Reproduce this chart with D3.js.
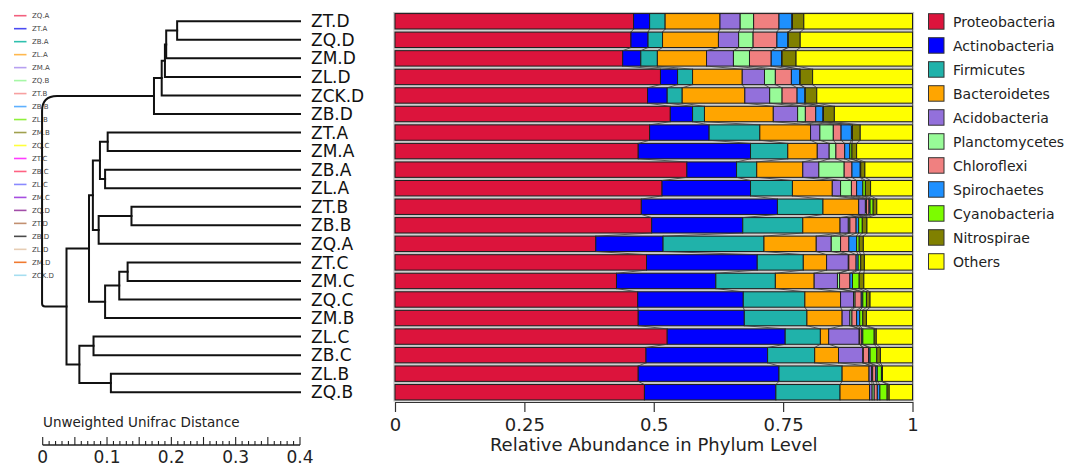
<!DOCTYPE html>
<html>
<head>
<meta charset="utf-8">
<script src="https://cdn.jsdelivr.net/npm/d3@7"></script>
<style>
  body { margin: 0; background: #fff; }
  svg { display: block; font-family: "DejaVu Sans", "Liberation Sans", sans-serif; }
</style>
</head>
<body>
<svg id="chart" width="1083" height="467"></svg>
<script>
// Samples in dendrogram (display) order, top to bottom
const samples = ["ZT.D","ZQ.D","ZM.D","ZL.D","ZCK.D","ZB.D","ZT.A","ZM.A","ZB.A","ZL.A",
                 "ZT.B","ZB.B","ZQ.A","ZT.C","ZM.C","ZQ.C","ZM.B","ZL.C","ZB.C","ZL.B","ZQ.B"];

const phyla = ["Proteobacteria","Actinobacteria","Firmicutes","Bacteroidetes","Acidobacteria",
               "Planctomycetes","Chloroflexi","Spirochaetes","Cyanobacteria","Nitrospirae","Others"];
const phylumColors = ["#DC143C","#0000FF","#20B2AA","#FFA500","#9370DB",
                      "#98FB98","#F08080","#1E90FF","#7CFC00","#808000","#FFFF00"];

// Relative abundance per phylum, one value per sample (same order as `samples`)
const proteobacteria = [0.461,0.456,0.440,0.513,0.488,0.532,0.492,0.470,0.564,0.516,0.476,0.496,0.388,0.486,0.428,0.469,0.470,0.526,0.485,0.470,0.482];
const actinobacteria = [0.031,0.033,0.035,0.033,0.038,0.043,0.115,0.217,0.096,0.171,0.263,0.176,0.130,0.214,0.192,0.204,0.205,0.228,0.235,0.272,0.254];
const firmicutes     = [0.030,0.028,0.032,0.029,0.029,0.023,0.098,0.072,0.039,0.081,0.088,0.116,0.195,0.089,0.115,0.119,0.121,0.068,0.091,0.122,0.124];
const bacteroidetes  = [0.106,0.108,0.095,0.096,0.121,0.133,0.098,0.057,0.089,0.077,0.069,0.072,0.101,0.045,0.075,0.069,0.068,0.016,0.046,0.052,0.057];
const acidobacteria  = [0.039,0.039,0.052,0.043,0.048,0.047,0.018,0.023,0.031,0.016,0.013,0.016,0.029,0.042,0.045,0.025,0.015,0.059,0.047,0.005,0.005];
const planctomycetes = [0.026,0.028,0.031,0.021,0.024,0.015,0.026,0.013,0.049,0.021,0.002,0.003,0.018,0.001,0.004,0.003,0.004,0.001,0.001,0.002,0.004];
const chloroflexi    = [0.049,0.046,0.042,0.031,0.029,0.020,0.015,0.017,0.015,0.010,0.005,0.012,0.016,0.014,0.020,0.012,0.009,0.004,0.010,0.006,0.006];
const spirochaetes   = [0.025,0.021,0.020,0.016,0.015,0.014,0.020,0.010,0.016,0.012,0.002,0.005,0.015,0.004,0.005,0.003,0.006,0.002,0.003,0.003,0.005];
const cyanobacteria  = [0.001,0.001,0.001,0.001,0.001,0.001,0.002,0.004,0.001,0.005,0.006,0.007,0.005,0.005,0.013,0.007,0.006,0.022,0.013,0.008,0.014];
const nitrospirae    = [0.022,0.023,0.027,0.024,0.022,0.021,0.015,0.009,0.008,0.010,0.007,0.009,0.008,0.007,0.009,0.007,0.007,0.004,0.007,0.002,0.004];
const others         = [0.210,0.217,0.225,0.193,0.185,0.151,0.101,0.108,0.092,0.081,0.069,0.088,0.095,0.093,0.094,0.082,0.089,0.070,0.062,0.058,0.045];

// UPGMA merges: [left, right, height]; "#n" refers to merge n
const merges = [
  ["ZT.D","ZQ.D",0.191], ["#0","ZM.D",0.208], ["#1","ZL.D",0.210], ["#2","ZCK.D",0.215], ["#3","ZB.D",0.227],
  ["ZT.A","ZM.A",0.299], ["ZB.A","ZL.A",0.303], ["#5","#6",0.311],
  ["ZT.B","ZB.B",0.262], ["#8","ZQ.A",0.313], ["#7","#9",0.322],
  ["ZT.C","ZM.C",0.268], ["#11","ZQ.C",0.281], ["#12","ZM.B",0.303], ["#10","#13",0.328],
  ["ZL.C","ZB.C",0.321], ["ZL.B","ZQ.B",0.294], ["#15","#16",0.343],
  ["#14","#17",0.363], ["#4","#18",0.401]
];

// Sample key (left) with its line colours
const keySamples = ["ZQ.A","ZT.A","ZB.A","ZL.A","ZM.A","ZQ.B","ZT.B","ZB.B","ZL.B","ZM.B","ZQ.C",
                    "ZT.C","ZB.C","ZL.C","ZM.C","ZQ.D","ZT.D","ZB.D","ZL.D","ZM.D","ZCK.D"];
const keyColors = ["#f2607e","#4b4bf2","#2fc0ae","#ffb84e","#b7a0f0","#a6f7a6","#f7a0a0","#5eb0ff","#8ff03c","#a0a04e","#ffff3c",
                   "#ff3cff","#ff6282","#8a8aff","#a64ee0","#a24ea8","#c29070","#4a4a4a","#e6cdb4","#f07a30","#a6def0"];

const distTicks = [0, 0.1, 0.2, 0.3, 0.4];
const abundTicks = [0, 0.25, 0.5, 0.75, 1];

const svg = d3.select("#chart");

// ---------- scales ----------
const x = d3.scaleLinear().domain([0, 1]).range([395, 912.5]);
const y = d3.scaleBand().domain(samples).range([12, 401.5]).paddingInner(0.17).paddingOuter(0.085);
const dist = d3.scaleLinear().domain([0, 0.4]).range([42.7, 300]);   // distance -> px (leaves at 0.4)
const color = d3.scaleOrdinal().domain(phyla).range(phylumColors);

// ---------- stacked bars ----------
const seriesArrays = [proteobacteria, actinobacteria, firmicutes, bacteroidetes, acidobacteria,
                      planctomycetes, chloroflexi, spirochaetes, cyanobacteria, nitrospirae, others];
const rows = samples.map((s, i) => {
  const r = { sample: s };
  phyla.forEach((p, k) => r[p] = seriesArrays[k][i]);
  return r;
});
const stacked = d3.stack().keys(phyla)(rows);
const bw = y.bandwidth();

const barG = svg.append("g");
// grey halo behind each bar
barG.selectAll("rect.halo").data(rows).join("rect")
  .attr("x", x(0) - 1.6)
  .attr("y", d => y(d.sample) - 1.6)
  .attr("width", d => x(d3.sum(phyla, p => d[p])) - x(0) + 3.2)
  .attr("height", bw + 3.2)
  .attr("fill", "#c4c4c4");

// connectors between segment boundaries of neighbouring bars
const connG = svg.append("g").attr("stroke", "#3a3a3a").attr("stroke-width", 0.8);
stacked.forEach(layer => {
  for (let i = 0; i < samples.length - 1; i++) {
    connG.append("line")
      .attr("x1", x(layer[i][1])).attr("y1", y(samples[i]) + bw)
      .attr("x2", x(layer[i + 1][1])).attr("y2", y(samples[i + 1]));
  }
});

barG.append("g").selectAll("g").data(stacked).join("g")
  .attr("fill", d => color(d.key))
  .selectAll("rect").data(d => d).join("rect")
  .attr("x", d => x(d[0]))
  .attr("y", d => y(d.data.sample))
  .attr("width", d => Math.max(0, x(d[1]) - x(d[0])))
  .attr("height", bw)
  .attr("stroke", "#1e1e1e")
  .attr("stroke-width", 1);

// x axis
const xAxis = svg.append("g")
  .attr("transform", "translate(0,402)")
  .call(d3.axisBottom(x).tickValues(abundTicks).tickSize(10).tickSizeOuter(0).tickFormat(d => String(d)));
xAxis.select(".domain").attr("stroke", "#333").attr("stroke-width", 1.2);
xAxis.selectAll(".tick line").attr("stroke", "#333").attr("stroke-width", 1.2);
xAxis.selectAll(".tick text").attr("font-size", 18).attr("fill", "#222")
  .attr("font-family", "DejaVu Sans, sans-serif").attr("y", 16).attr("dy", "0.71em");

svg.append("text")
  .attr("x", (x(0) + x(1)) / 2).attr("y", 451)
  .attr("text-anchor", "middle").attr("font-size", 18).attr("fill", "#222")
  .text("Relative Abundance in Phylum Level");

// ---------- dendrogram ----------
const nodes = {};
samples.forEach(s => nodes[s] = { name: s, h: 0, y: y(s) + bw / 2 });
merges.forEach((m, i) => {
  const a = m[0].startsWith("#") ? nodes["m" + m[0].slice(1)] : nodes[m[0]];
  const b = m[1].startsWith("#") ? nodes["m" + m[1].slice(1)] : nodes[m[1]];
  nodes["m" + i] = { name: "m" + i, h: m[2], children: [a, b], y: (a.y + b.y) / 2 };
});
const root = d3.hierarchy(nodes["m" + (merges.length - 1)]);
const nx = d => dist(0.4 - d.data.h);

const treeG = svg.append("g").attr("fill", "none").attr("stroke", "#111")
  .attr("stroke-width", 2).attr("stroke-linecap", "square");
root.each(n => {
  if (!n.children) return;
  const px = nx(n);
  const [c1, c2] = n.children;
  if (n.depth === 0) {
    // root drawn with rounded corners
    const r1 = 15, r2 = 3;
    treeG.append("path").attr("d",
      `M${nx(c1)},${c1.data.y} H${px + r1} Q${px},${c1.data.y} ${px},${c1.data.y + r1}` +
      ` V${c2.data.y - r2} Q${px},${c2.data.y} ${px + r2},${c2.data.y} H${nx(c2)}`);
  } else {
    treeG.append("path").attr("d",
      `M${nx(c1)},${c1.data.y} H${px} V${c2.data.y} H${nx(c2)}`);
  }
});

// sample labels at the leaves
svg.append("g").selectAll("text").data(samples).join("text")
  .attr("x", 311).attr("y", s => y(s) + bw / 2).attr("dy", "0.36em")
  .attr("font-size", 17).attr("fill", "#111").text(s => s);

// distance scale bar
const sb = svg.append("g");
sb.append("text").attr("x", 43).attr("y", 427).attr("font-size", 13.5).attr("fill", "#222")
  .text("Unweighted Unifrac Distance");
sb.append("line").attr("x1", dist(0)).attr("x2", dist(0.4)).attr("y1", 445).attr("y2", 445)
  .attr("stroke", "#222").attr("stroke-width", 1.3);
d3.range(0, 41).forEach(i => {
  const v = i / 100;
  sb.append("line").attr("x1", dist(v)).attr("x2", dist(v))
    .attr("y1", 445).attr("y2", i % 5 === 0 ? 437 : 441)
    .attr("stroke", "#222").attr("stroke-width", 1.1);
});
sb.selectAll("text.tl").data(distTicks).join("text").attr("class", "tl")
  .attr("x", d => dist(d)).attr("y", 463).attr("text-anchor", "middle")
  .attr("font-size", 17).attr("fill", "#222").text(d => String(d));

// ---------- left sample key ----------
const key = svg.append("g");
keySamples.forEach((s, i) => {
  const yy = 15.7 + i * 12.98;
  key.append("line").attr("x1", 14).attr("x2", 26.5).attr("y1", yy).attr("y2", yy)
    .attr("stroke", keyColors[i]).attr("stroke-width", 1.6);
  key.append("text").attr("x", 32).attr("y", yy).attr("dy", "0.35em")
    .attr("font-size", 7).attr("fill", "#444").text(s);
});
// keep the tree on top of the key labels
treeG.raise();

// ---------- phylum legend ----------
const leg = svg.append("g");
phyla.forEach((p, i) => {
  const yy = 21.7 + i * 24;
  leg.append("rect").attr("x", 928.5).attr("y", yy - 8).attr("width", 15.5).attr("height", 15.5)
    .attr("fill", color(p)).attr("stroke", "#333").attr("stroke-width", 1);
  leg.append("text").attr("x", 953).attr("y", yy).attr("dy", "0.36em")
    .attr("font-size", 14).attr("fill", "#222").text(p);
});
</script>
</body>
</html>
